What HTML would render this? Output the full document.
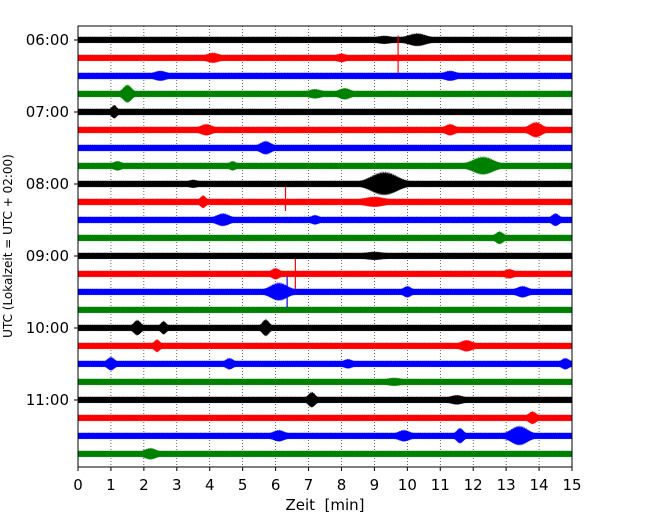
<!DOCTYPE html>
<html><head><meta charset="utf-8"><style>
body{margin:0;background:#fff;}
svg{display:block;font-family:"DejaVu Sans","Liberation Sans",sans-serif;}
</style></head><body>
<svg id="c" width="650" height="520"></svg>
<script>
// data
const traceLabels=["06:00","","","","07:00","","","","08:00","","","","09:00","","","","10:00","","","","11:00","","",""];
const xTicks=[0,1,2,3,4,5,6,7,8,9,10,11,12,13,14,15];
const baseAmp=[1,1,1,1,1,1,1,1,1,1,1,1,1,1,1,1,1,1,1,1,1,1,1,1];
// [trace, minute, amplitude, duration(min)]
const bursts=[[0,10.3,2.0,0.5],[0,9.3,1.3,0.3],[1,4.1,1.6,0.3],[1,8,1.4,0.2],[2,2.5,1.6,0.3],[2,11.3,1.6,0.3],
[3,1.5,2.8,0.25],[3,7.2,1.5,0.3],[3,8.1,1.8,0.3],[4,1.1,2.1,0.15],[5,3.9,1.8,0.3],[5,11.3,1.8,0.25],[5,13.9,2.4,0.35],
[6,5.7,2.1,0.3],[7,1.2,1.5,0.2],[7,4.7,1.5,0.15],[7,12.3,2.8,0.6],[8,9.3,3.6,0.8],[8,3.5,1.3,0.2],[9,3.8,2.0,0.15],
[9,9,1.6,0.5],[10,4.4,2.0,0.35],[10,7.2,1.5,0.2],[10,14.5,2.0,0.2],[11,12.8,2.0,0.2],[12,9,1.3,0.4],[13,6.0,1.8,0.2],
[13,13.1,1.5,0.2],[14,6.1,2.8,0.5],[14,10,1.8,0.2],[14,13.5,1.8,0.3],[16,1.8,2.4,0.2],[16,2.6,2.1,0.15],[16,5.7,2.6,0.2],
[17,2.4,2.0,0.15],[17,11.8,1.8,0.3],[18,1.0,2.1,0.2],[18,4.6,1.8,0.2],[18,8.2,1.5,0.2],[18,14.8,1.8,0.2],[19,9.6,1.3,0.3],
[20,7.1,2.4,0.2],[20,11.5,1.5,0.3],[21,13.8,2.0,0.2],[22,6.1,1.8,0.3],[22,9.9,1.8,0.3],[22,11.6,2.4,0.2],[22,13.4,3.0,0.5],[23,2.2,1.8,0.3]];
// [trace, minute, up, down]
const spikes=[[1,9.72,7.5,5],[9,6.3,5,3],[13,6.6,5,5],[14,6.35,5,5]];
const colors=["#000","#f00","#00f","#008000"];
const NS="http://www.w3.org/2000/svg";
const svg=document.getElementById('c');
const L=78,R=572,T=26,B=467;
const xs=m=>L+(R-L)*m/15;
const ys=i=>40+18*i;
const unit=3;
function mk(t,a){const e=document.createElementNS(NS,t);for(const k in a)e.setAttribute(k,a[k]);svg.appendChild(e);return e;}
xTicks.forEach(v=>{if(v>0&&v<15){const g=mk('line',{x1:xs(v),x2:xs(v),y1:T,y2:B,stroke:'#000','stroke-width':0.6,'stroke-dasharray':'1,2'});

}});
baseAmp.forEach((b,i)=>{
  const y0=ys(i);const up=[],dn=[];
  for(let k=0;k<=1500;k++){
    const m=k/100;
    let a=b;
    bursts.forEach(e=>{if(e[0]===i){const d=Math.abs(m-e[1])/e[3];if(d<1)a+=(e[2]-1)*0.5*(1+Math.cos(Math.PI*d));}});
    const j=(k%2?1.12:0.9)+((k*7+i)%5)*0.03;
    up.push(xs(m).toFixed(2)+','+(y0-a*unit*j).toFixed(1));
    dn.unshift(xs(m).toFixed(2)+','+(y0+a*unit*(k%3?1.05:0.9)).toFixed(1));
  }
  const p=mk('polygon',{points:up.concat(dn).join(' '),fill:colors[i%4]});
  
  
});
spikes.forEach((s,k)=>{const l=mk('line',{x1:xs(s[1]),x2:xs(s[1]),y1:ys(s[0])-s[2]*unit,y2:ys(s[0])+s[3]*unit,stroke:colors[s[0]%4],'stroke-width':1.2});

});
const fr=mk('rect',{x:L,y:T,width:R-L,height:B-T,fill:'none',stroke:'#000','stroke-width':1});


xTicks.forEach(v=>{mk('line',{x1:xs(v),x2:xs(v),y1:B,y2:B+4,stroke:'#000'});
const t=mk('text',{x:xs(v),y:B+23,'text-anchor':'middle','font-size':15});t.textContent=v;

});
traceLabels.forEach((s,i)=>{if(s){mk('line',{x1:L-4,x2:L,y1:ys(i),y2:ys(i),stroke:'#000'});
const t=mk('text',{x:L-9,y:ys(i)+5,'text-anchor':'end','font-size':15});t.textContent=s;

}});
const xl=mk('text',{x:325,y:510,'text-anchor':'middle','font-size':15});xl.textContent='Zeit\u00a0\u00a0[min]';


const yl=mk('text',{x:0,y:0,'text-anchor':'middle','font-size':12,transform:'translate(12,246) rotate(-90)'});yl.textContent='UTC (Lokalzeit = UTC + 02:00)';


</script>
</body></html>
